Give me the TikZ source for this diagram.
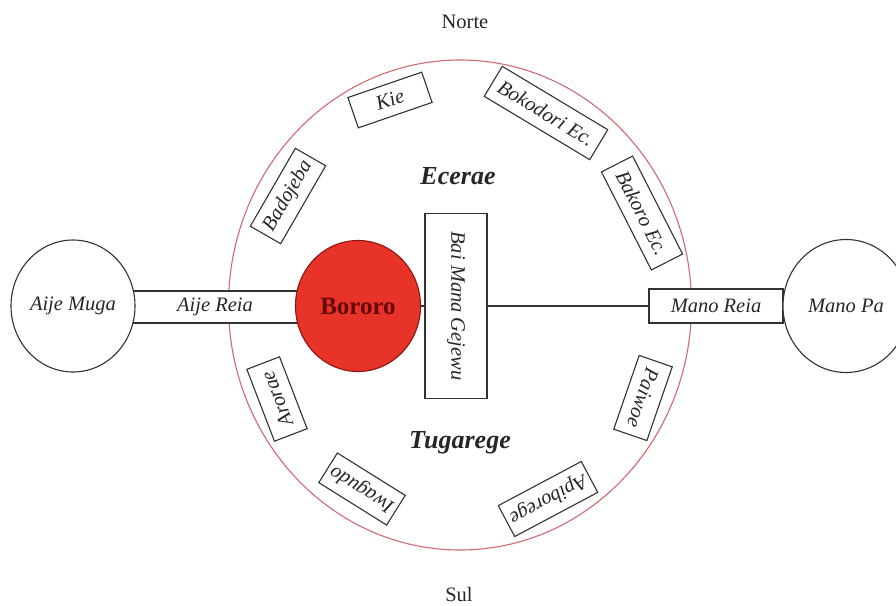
\documentclass[tikz,border=0pt]{standalone}
\usepackage{fontspec}
\setmainfont{Liberation Serif}
\usetikzlibrary{shapes.geometric}
\definecolor{ringred}{RGB}{210,105,112}
\definecolor{bororofill}{RGB}{232,52,40}
\definecolor{bororotext}{RGB}{105,8,8}
\definecolor{linegray}{RGB}{50,50,50}
\begin{document}
\begin{tikzpicture}[x=1pt,y=-1pt,
  lab/.style={font=\fontsize{20.5}{23}\selectfont\itshape, text=black!85},
  clanbox/.style={draw=linegray, line width=1.1pt, fill=white, lab, inner sep=0pt, minimum height=35pt},
  ovalnode/.style={ellipse, draw=linegray, line width=1.1pt, fill=white, inner sep=0pt, lab},
  barbox/.style={draw=linegray, line width=1.1pt, fill=white, inner sep=0pt, lab},
  moiety/.style={font=\fontsize{26}{30}\selectfont\bfseries\itshape, text=black!85},
  compass/.style={font=\fontsize{20.5}{23}\selectfont, text=black!85},
  conn/.style={draw=linegray, line width=1.1pt}
]
\path[use as bounding box, fill=white] (0,0) rectangle (896,605);

% outer village ring
\node[ellipse, draw=ringred, line width=1.1pt, minimum width=463pt, minimum height=490pt, inner sep=0pt] (ring) at (460,305) {};

% compass labels
\node[compass, anchor=base] (norte) at (465,28) {Norte};
\node[compass, anchor=base] (sul) at (459,601) {Sul};

% moieties
\node[moiety] (ecerae) at (458,176) {Ecerae};
\node[moiety] (tugarege) at (460,443) {Tugarege};

% clan boxes
\node[clanbox, minimum width=78pt, minimum height=32pt, rotate=19] (kie) at (390,100) {Kie};
\node[clanbox, minimum width=90pt, rotate=60] (badojeba) at (288,196) {Badojeba};
\node[clanbox, minimum width=123pt, rotate=-31] (bokodori) at (546,113) {Bokodori Ec.};
\node[clanbox, minimum width=110pt, rotate=-63] (bakoro) at (642,213) {Bakoro Ec.};
\node[clanbox, minimum width=78pt, rotate=-109] (paiwoe) at (643,398) {Paiwoe};
\node[clanbox, minimum width=94pt, rotate=-152] (apiborege) at (548,499) {Apiborege};
\node[clanbox, minimum width=80pt, rotate=148] (iwagudo) at (362,489) {Iwagudo};
\node[clanbox, minimum width=77pt, rotate=111] (arorae) at (277,399) {Arorae};

% west axis
\node[barbox, minimum width=180pt, minimum height=32pt] (aijereia) at (215,307) {Aije Reia};
\node[ovalnode, minimum width=124pt, minimum height=132pt] (aijemuga) at (73,306) {Aije Muga};
\node[ellipse, draw=bororotext!70!bororofill, line width=1.1pt, fill=bororofill, minimum width=125pt, minimum height=131pt, inner sep=0pt,
      font=\fontsize{25}{28}\selectfont\bfseries, text=bororotext] (bororo) at (358,306) {Bororo};

% men's house
\node[barbox, minimum width=185pt, minimum height=62pt, rotate=-90] (baimana) at (456,306) {Bai Mana Gejewu};

% east axis
\node[barbox, minimum width=134pt, minimum height=34pt] (manoreia) at (716,306) {Mano Reia};
\node[ovalnode, minimum width=126pt, minimum height=133pt] (manopa) at (846,306) {Mano Pa};

% connectors
\draw[conn] (bororo) -- (baimana);
\draw[conn] (baimana) -- (manoreia);
\end{tikzpicture}
\end{document}
